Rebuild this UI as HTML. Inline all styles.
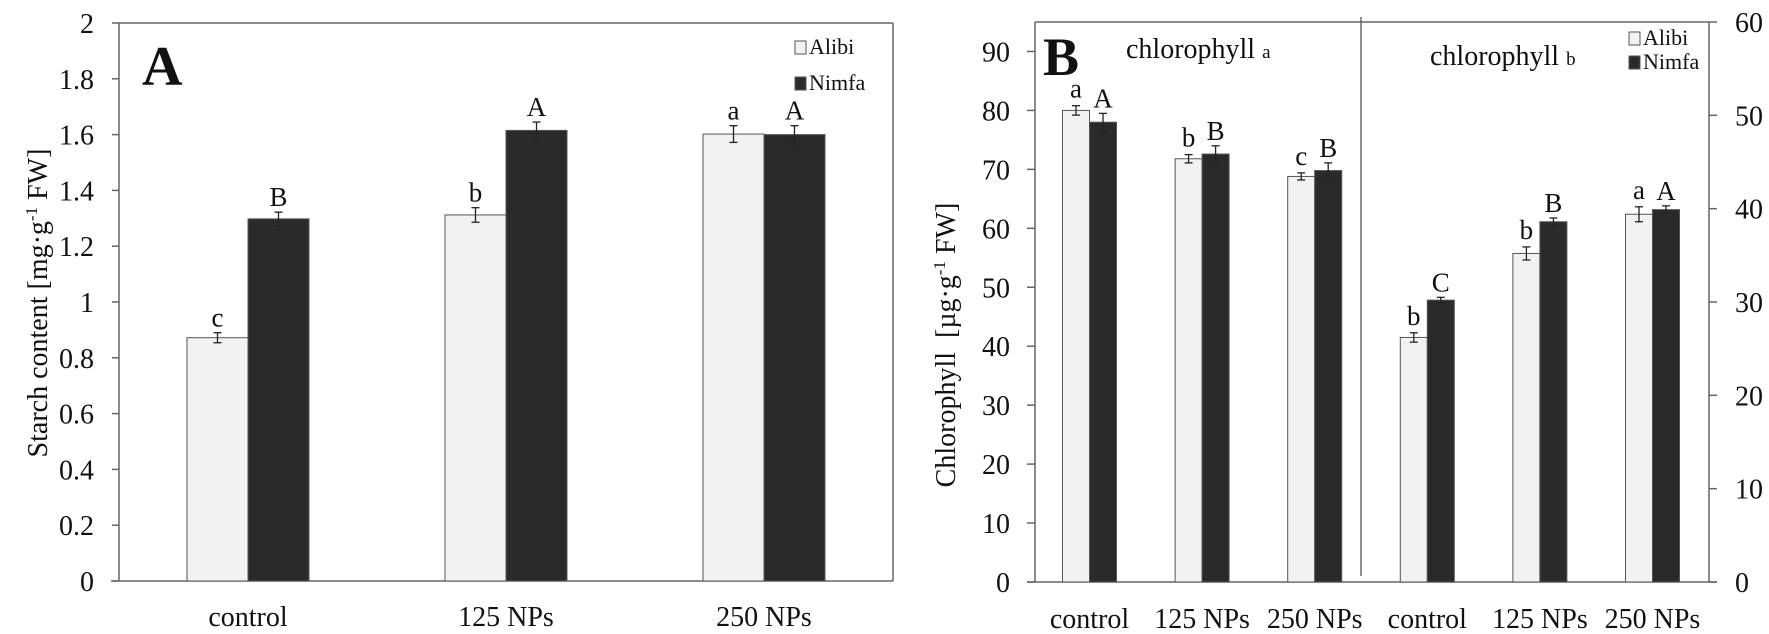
<!DOCTYPE html>
<html><head><meta charset="utf-8"><style>
body{margin:0;background:#fff}
svg{display:block;font-family:"Liberation Serif",serif}
</style></head><body>
<svg id="chart" width="1769" height="634" viewBox="0 0 1769 634" xmlns="http://www.w3.org/2000/svg"></svg>
<script>
// Panel A data
const catsA = ["control","125 NPs","250 NPs"];
const alibiA = [0.872,1.312,1.602];
const nimfaA = [1.298,1.615,1.600];
const errAlibiA = [0.018,0.026,0.03];
const errNimfaA = [0.024,0.03,0.032];
const lettersAlibiA = ["c","b","a"];
const lettersNimfaA = ["B","A","A"];
const ticksA = [0,0.2,0.4,0.6,0.8,1,1.2,1.4,1.6,1.8,2];
// Panel B data
const catsB = ["control","125 NPs","250 NPs","control","125 NPs","250 NPs"];
const alibiChlA = [80,71.8,68.8];
const nimfaChlA = [78,72.6,69.8];
const errAlibiChlA = [0.8,0.7,0.6];
const errNimfaChlA = [1.5,1.4,1.3];
const alibiChlB = [26.2,35.2,39.4];
const nimfaChlB = [30.2,38.6,39.9];
const errAlibiChlB = [0.5,0.7,0.8];
const errNimfaChlB = [0.3,0.4,0.4];
const lettersAlibiB = ["a","b","c","b","b","a"];
const lettersNimfaB = ["A","B","B","C","B","A"];
const ticksBL = [0,10,20,30,40,50,60,70,80,90];
const ticksBR = [0,10,20,30,40,50,60];

const svg=document.getElementById('chart');
const NS="http://www.w3.org/2000/svg";
function mk(tag,attrs,parent){const e=document.createElementNS(NS,tag);for(const k in attrs)e.setAttribute(k,attrs[k]);(parent||svg).appendChild(e);return e;}
function txt(s,attrs){const e=mk('text',attrs);e.textContent=s;return e;}
const LIGHT="#f2f2f2",DARK="#2a2a2a",AX="#666";

// ---------- Panel A ----------
const axA={x0:119,x1:893,yTop:23,yBase:581,max:2};
const yA=v=>axA.yBase-(v/axA.max)*(axA.yBase-axA.yTop);
const cxA=i=>248+i*258;
const bwA=61;
let e;
e=mk('line',{x1:axA.x0,y1:axA.yTop,x2:axA.x1,y2:axA.yTop,stroke:AX,'stroke-width':1.5});

e=mk('line',{x1:axA.x1,y1:axA.yTop,x2:axA.x1,y2:axA.yBase,stroke:AX,'stroke-width':1.5});

e=mk('line',{x1:axA.x0,y1:axA.yTop,x2:axA.x0,y2:axA.yBase,stroke:AX,'stroke-width':1.5});

e=mk('line',{x1:axA.x0-8,y1:axA.yBase,x2:axA.x1,y2:axA.yBase,stroke:AX,'stroke-width':1.5});

ticksA.forEach(t=>{
  e=mk('line',{x1:axA.x0-7,y1:yA(t),x2:axA.x0,y2:yA(t),stroke:AX,'stroke-width':1.5});
  
  e=txt(String(t),{x:94,y:yA(t)+10,'text-anchor':'end','font-size':28,fill:'#111'});
  
});
function bar(x,y0,y1,w,fill,name){
  const r=mk('rect',{x:x,y:y1,width:w,height:y0-y1,fill:fill,stroke:'#555','stroke-width':1});
  return r;
}
function errbar(cx,yv,ylo,yhi,name){
  const g=mk('g',{stroke:'#222','stroke-width':1.3});
  
  mk('line',{x1:cx,y1:yhi,x2:cx,y2:ylo},g);
  mk('line',{x1:cx-4,y1:yhi,x2:cx+4,y2:yhi},g);
  mk('line',{x1:cx-4,y1:ylo,x2:cx+4,y2:ylo},g);
}
catsA.forEach((c,i)=>{
  const cx=cxA(i);
  bar(cx-bwA,axA.yBase,yA(alibiA[i]),bwA,LIGHT,'bar-alibi-'+i);
  bar(cx,axA.yBase,yA(nimfaA[i]),bwA,DARK,'bar-nimfa-'+i);
  errbar(cx-bwA/2,0,yA(alibiA[i]-errAlibiA[i]),yA(alibiA[i]+errAlibiA[i]),'error-bar-alibi');
  errbar(cx+bwA/2,0,yA(nimfaA[i]-errNimfaA[i]),yA(nimfaA[i]+errNimfaA[i]),'error-bar-nimfa');
  e=txt(lettersAlibiA[i],{x:cx-bwA/2,y:yA(alibiA[i]+errAlibiA[i])-6,'text-anchor':'middle','font-size':27,fill:'#111'});
  
  e=txt(lettersNimfaA[i],{x:cx+bwA/2,y:yA(nimfaA[i]+errNimfaA[i])-6,'text-anchor':'middle','font-size':27,fill:'#111'});
  
  e=txt(c,{x:cx,y:626,'text-anchor':'middle','font-size':28,fill:'#111'});
  
});
e=txt('A',{x:142,y:85,'font-size':56,'font-weight':'bold',fill:'#111'});

e=txt('',{transform:'translate(47,303) rotate(-90)','text-anchor':'middle','font-size':28,fill:'#111'});
e.innerHTML='Starch content [mg·g<tspan dy="-10" font-size="17">-1</tspan><tspan dy="10"> FW]</tspan>';

function legend(x,y,fill,label,name){
  const g=mk('g',{});
  mk('rect',{x:x,y:y-13,width:11,height:13,fill:fill,stroke:'#555','stroke-width':1},g);
  const t=mk('text',{x:x+14,y:y,'font-size':22,fill:'#111'},g);t.textContent=label;
}
legend(795,54,LIGHT,'Alibi','legend-a-alibi');
legend(795,90,DARK,'Nimfa','legend-a-nimfa');

// ---------- Panel B ----------
const axB={x0:1035,x1:1709,yTop:22,yBase:582};
const yL=v=>axB.yBase-(v/95)*(axB.yBase-axB.yTop);
const yR=v=>axB.yBase-(v/60)*(axB.yBase-axB.yTop);
const cxB=i=>1089.5+i*112.6;
const bwB=27;
e=mk('line',{x1:axB.x0,y1:axB.yTop,x2:axB.x1,y2:axB.yTop,stroke:AX,'stroke-width':1.5});

e=mk('line',{x1:axB.x0,y1:axB.yTop,x2:axB.x0,y2:axB.yBase,stroke:AX,'stroke-width':1.5});

e=mk('line',{x1:axB.x1,y1:axB.yTop,x2:axB.x1,y2:axB.yBase,stroke:AX,'stroke-width':1.5});

e=mk('line',{x1:axB.x0-8,y1:axB.yBase,x2:axB.x1+8,y2:axB.yBase,stroke:AX,'stroke-width':1.5});

e=mk('line',{x1:1361,y1:axB.yTop-5,x2:1361,y2:axB.yBase-6,stroke:'#555','stroke-width':1.3});

ticksBL.forEach(t=>{
  e=mk('line',{x1:axB.x0-8,y1:yL(t),x2:axB.x0,y2:yL(t),stroke:AX,'stroke-width':1.5});
  
  e=txt(String(t),{x:1010,y:yL(t)+10,'text-anchor':'end','font-size':28,fill:'#111'});
  
});
ticksBR.forEach(t=>{
  e=mk('line',{x1:axB.x1,y1:yR(t),x2:axB.x1+8,y2:yR(t),stroke:AX,'stroke-width':1.5});
  
  e=txt(String(t),{x:1735,y:yR(t)+10,'font-size':28,fill:'#111'});
  
});
catsB.forEach((c,i)=>{
  const cx=cxB(i);
  let a,n,ea,en,sc;
  if(i<3){a=alibiChlA[i];n=nimfaChlA[i];ea=errAlibiChlA[i];en=errNimfaChlA[i];sc=yL;}
  else{a=alibiChlB[i-3];n=nimfaChlB[i-3];ea=errAlibiChlB[i-3];en=errNimfaChlB[i-3];sc=yR;}
  bar(cx-bwB,axB.yBase,sc(a),bwB,LIGHT,'bar-b-alibi-'+i);
  bar(cx,axB.yBase,sc(n),bwB,DARK,'bar-b-nimfa-'+i);
  errbar(cx-bwB/2,0,sc(a-ea),sc(a+ea),'error-bar-b-alibi');
  errbar(cx+bwB/2,0,sc(n-en),sc(n+en),'error-bar-b-nimfa');
  e=txt(lettersAlibiB[i],{x:cx-bwB/2,y:sc(a+ea)-8,'text-anchor':'middle','font-size':27,fill:'#111'});
  
  e=txt(lettersNimfaB[i],{x:cx+bwB/2,y:sc(n+en)-6,'text-anchor':'middle','font-size':27,fill:'#111'});
  
  e=txt(c,{x:cx,y:628,'text-anchor':'middle','font-size':28,fill:'#111'});
  
});
e=txt('B',{x:1043,y:75,'font-size':54,'font-weight':'bold',fill:'#111'});

e=txt('',{x:1126,y:58,'font-size':28,fill:'#111'});
e.innerHTML='chlorophyll <tspan font-size="19">a</tspan>';

e=txt('',{x:1430,y:65,'font-size':28,fill:'#111'});
e.innerHTML='chlorophyll <tspan font-size="19">b</tspan>';

e=txt('',{transform:'translate(955,345) rotate(-90)','text-anchor':'middle','font-size':28,fill:'#111'});
e.innerHTML='Chlorophyll&#160; [µg·g<tspan dy="-10" font-size="17">-1</tspan><tspan dy="10"> FW]</tspan>';

legend(1629,45,LIGHT,'Alibi','legend-b-alibi');
legend(1629,69,DARK,'Nimfa','legend-b-nimfa');
</script>
</body></html>
